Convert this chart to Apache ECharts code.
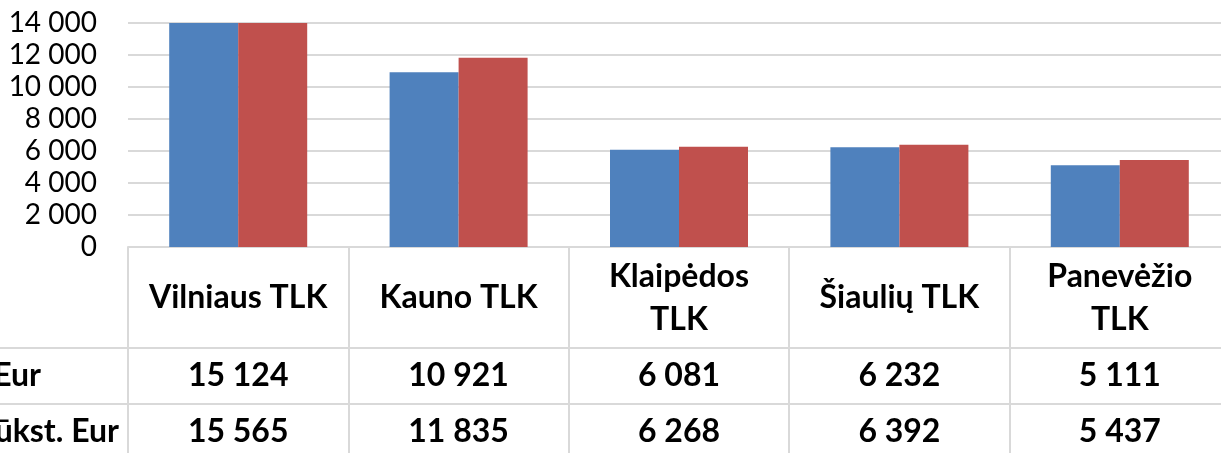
<!DOCTYPE html>
<html>
<head>
<meta charset="utf-8">
<script src="https://cdn.jsdelivr.net/npm/echarts@6/dist/echarts.min.js"></script>
<style>
    html, body { margin: 0; padding: 0; background: #fff; }
    #chart { width: 1221px; height: 453px; }
</style>
</head>
<body>
<div id="chart"></div>
<script>
// categories and values
const categories = ['Vilniaus TLK', 'Kauno TLK', 'Klaipėdos\nTLK', 'Šiaulių TLK', 'Panevėžio\nTLK'];
const rowNames = ['Eur', 'tūkst. Eur'];
const firstValues = [15124, 10921, 6081, 6232, 5111];
const secondValues = [15565, 11835, 6268, 6392, 5437];
const yTicks = { min: 0, max: 14000, step: 2000 };

const fmt = v => String(v).replace(/\B(?=(\d{3})+(?!\d))/g, ' ');
const font = 'Lato, "Noto Sans", sans-serif';
const gridColor = '#d9d9d9';

const myChart = echarts.init(document.getElementById('chart'));

const valueAxis = (values, margin) => ({
    type: 'category',
    gridIndex: 0,
    position: 'bottom',
    data: values.map(fmt),
    axisLine: { show: false },
    axisTick: { show: false },
    axisLabel: {
        interval: 0,
        hideOverlap: false,
        margin: margin,
        verticalAlign: 'middle',
        color: '#000',
        fontFamily: font,
        fontWeight: 'bold',
        fontSize: 32
    }
});

const option = {
    animation: false,
    grid: {
        left: 128,
        width: 1102,
        top: 23,
        bottom: 206,
        outerBoundsMode: 'none'
    },
    xAxis: [
        {
            type: 'category',
            data: categories,
            axisLine: { show: true, lineStyle: { color: gridColor, width: 2 } },
            axisTick: { show: true, interval: 0, length: 215, lineStyle: { color: gridColor, width: 2 } },
            axisLabel: {
                interval: 0,
                hideOverlap: false,
                margin: 51,
                verticalAlign: 'middle',
                color: '#000',
                fontFamily: font,
                fontWeight: 'bold',
                fontSize: 32,
                lineHeight: 43
            }
        },
        valueAxis(firstValues, 129),
        valueAxis(secondValues, 185)
    ],
    yAxis: {
        type: 'value',
        min: yTicks.min,
        max: yTicks.max,
        interval: yTicks.step,
        axisLine: { show: false },
        axisTick: { show: false },
        splitLine: { lineStyle: { color: gridColor, width: 2 } },
        axisLabel: {
            margin: 31,
            color: '#000',
            fontFamily: font,
            fontSize: 28,
            formatter: fmt
        }
    },
    series: [
        {
            type: 'bar',
            data: firstValues,
            barWidth: 69,
            barGap: '0%',
            itemStyle: { color: '#4f81bd' }
        },
        {
            type: 'bar',
            data: secondValues,
            barWidth: 69,
            itemStyle: { color: '#c0504d' }
        }
    ],
    graphic: [
        { type: 'line', shape: { x1: 0, y1: 348, x2: 1221, y2: 348 }, style: { stroke: gridColor, lineWidth: 2 } },
        { type: 'line', shape: { x1: 0, y1: 404, x2: 1221, y2: 404 }, style: { stroke: gridColor, lineWidth: 2 } },
        {
            type: 'text', x: 41, y: 376,
            style: { text: rowNames[0], align: 'right', verticalAlign: 'middle', fill: '#000', font: 'bold 32px ' + font }
        },
        {
            type: 'text', x: 119, y: 432,
            style: { text: rowNames[1], align: 'right', verticalAlign: 'middle', fill: '#000', font: 'bold 32px ' + font }
        }
    ]
};
myChart.setOption(option);
</script>
</body>
</html>
